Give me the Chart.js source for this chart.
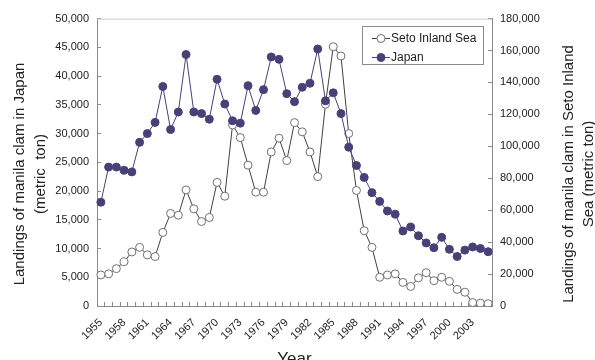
<!DOCTYPE html>
<html>
<head>
<meta charset="utf-8">
<script src="https://cdn.jsdelivr.net/npm/chart.js@4.4.0/dist/chart.umd.min.js"></script>
<style>
  html, body { margin: 0; padding: 0; background: #fff; }
  #wrap { width: 595px; height: 360px; }
</style>
</head>
<body>
<div id="wrap"><canvas id="chart" width="595" height="360"></canvas></div>
<script>
/* ==== Data ==== */
const years = [
  1955, 1956, 1957, 1958, 1959, 1960, 1961, 1962, 1963, 1964,
  1965, 1966, 1967, 1968, 1969, 1970, 1971, 1972, 1973, 1974,
  1975, 1976, 1977, 1978, 1979, 1980, 1981, 1982, 1983, 1984,
  1985, 1986, 1987, 1988, 1989, 1990, 1991, 1992, 1993, 1994,
  1995, 1996, 1997, 1998, 1999, 2000, 2001, 2002, 2003, 2004, 2005
];
// open circles, left axis
const setoInlandSea = [
  5400, 5600, 6500, 7700, 9400, 10200, 8900, 8600, 12800, 16100,
  15800, 20200, 16900, 14700, 15400, 21500, 19100, 31500, 29300, 24500,
  19800, 19800, 26800, 29200, 25300, 31900, 30300, 26800, 22500, 35100,
  45100, 43500, 30000, 20100, 13100, 10200, 5000, 5400, 5600, 4100,
  3400, 4900, 5800, 4400, 5000, 4300, 2900, 2400, 600, 500, 400
];
// filled circles, right axis
const japan = [
  65000, 87000, 87000, 85000, 84000, 102500, 108000, 115000, 137500, 110500,
  121500, 157500, 121500, 120500, 117000, 142000, 126500, 116000, 114500, 138000,
  122500, 135500, 156000, 154500, 133000, 128000, 137000, 139500, 161000, 128500,
  133500, 120500, 99500, 88000, 80500, 71000, 65500, 59500, 57500, 47000,
  49500, 44000, 39500, 36500, 43000, 35500, 31000, 35000, 37000, 36000, 34000
];
const leftTitle = ['Landings of manila clam in Japan', '(metric  ton)'];
const rightTitle = ['Landings of manila clam in Seto Inland', 'Sea (metric ton)'];

const PURPLE = '#474177';
const AXIS = '#8a8a8a';
const fmt = v => Number(v).toLocaleString('en-US');

/* ==== Extras: frame top, y titles, legend ==== */
const extras = {
  id: 'extras',
  afterDraw(chart){
    const ctx = chart.ctx, a = chart.chartArea;
    ctx.save();
    // top frame line
    ctx.strokeStyle = '#c8c8c8'; ctx.lineWidth = 1;
    ctx.beginPath(); ctx.moveTo(a.left, a.top + 0.5); ctx.lineTo(a.right, a.top + 0.5); ctx.stroke();

    // rotated axis titles
    ctx.fillStyle = '#222';
    ctx.font = '15px "Liberation Sans", Arial, sans-serif';
    ctx.textAlign = 'center'; ctx.textBaseline = 'alphabetic';
    const drawRot = (lines, xs, cy) => {
      lines.forEach((t, i) => {
        ctx.save(); ctx.translate(xs[i], cy); ctx.rotate(-Math.PI / 2);
        ctx.fillText(t, 0, 0); ctx.restore();
      });
    };
    drawRot(leftTitle, [24, 45], 174);
    drawRot(rightTitle, [573, 593], 174);

    // legend
    const bx = 362.5, by = 26.5, bw = 121, bh = 38;
    ctx.fillStyle = '#fff'; ctx.fillRect(bx, by, bw, bh);
    ctx.strokeStyle = '#8a8a8a'; ctx.strokeRect(bx, by, bw, bh);
    const items = [
      { text: 'Seto Inland Sea', line: '#404040', fill: '#fff', stroke: '#707070', y: 38 },
      { text: 'Japan', line: PURPLE, fill: PURPLE, stroke: PURPLE, y: 57 }
    ];
    ctx.font = '12px "Liberation Sans", Arial, sans-serif';
    ctx.textAlign = 'left'; ctx.textBaseline = 'middle';
    items.forEach(it => {
      ctx.strokeStyle = it.line; ctx.lineWidth = 1;
      ctx.beginPath(); ctx.moveTo(372, it.y + 0.5); ctx.lineTo(390, it.y + 0.5); ctx.stroke();
      ctx.beginPath(); ctx.arc(381, it.y + 0.5, 4, 0, Math.PI * 2);
      ctx.fillStyle = it.fill; ctx.fill(); ctx.strokeStyle = it.stroke; ctx.stroke();
      ctx.fillStyle = '#222'; ctx.fillText(it.text, 391, it.y + 1);
    });
    ctx.restore();
  }
};

/* ==== Chart ==== */
const ctx = document.getElementById('chart').getContext('2d');
new Chart(ctx, {
  type: 'line',
  data: {
    labels: years,
    datasets: [
      {
        label: 'Seto Inland Sea', data: setoInlandSea, yAxisID: 'y', order: 1,
        borderColor: '#404040', borderWidth: 1,
        pointRadius: 4, pointBackgroundColor: '#fff', pointBorderColor: '#707070', pointBorderWidth: 1
      },
      {
        label: 'Japan', data: japan, yAxisID: 'y1', order: 0,
        borderColor: PURPLE, borderWidth: 1,
        pointRadius: 4, pointBackgroundColor: PURPLE, pointBorderColor: PURPLE, pointBorderWidth: 1
      }
    ]
  },
  options: {
    responsive: false,
    animation: false,
    devicePixelRatio: 1,
    layout: { padding: { top: 18, left: 0, right: 0, bottom: 0 } },
    plugins: { legend: { display: false }, tooltip: { enabled: false } },
    elements: { line: { tension: 0 } },
    scales: {
      x: {
        type: 'category',
        offset: true,
        grid: { offset: true, drawOnChartArea: false, drawTicks: true, tickLength: -4, color: AXIS },
        border: { color: AXIS, width: 1 },
        ticks: {
          autoSkip: false, maxRotation: 45, minRotation: 45, padding: 14,
          color: '#222', font: { family: '"Liberation Sans", Arial, sans-serif', size: 11 },
          callback: function(v, i){ return i % 3 === 0 ? String(years[i]) : ''; }
        },
        title: {
          display: true, text: 'Year', color: '#222',
          font: { family: '"Liberation Sans", Arial, sans-serif', size: 17 },
          padding: { top: 0, bottom: -10 }
        },
        afterFit(s){ s.height = 54; }
      },
      y: {
        position: 'left', min: 0, max: 50000,
        grid: { drawOnChartArea: false, drawTicks: true, tickLength: -4, color: AXIS },
        border: { color: AXIS, width: 1 },
        ticks: {
          stepSize: 5000, padding: 12, color: '#222',
          font: { family: '"Liberation Sans", Arial, sans-serif', size: 11 },
          callback: v => fmt(v)
        },
        afterFit(s){ s.width = 97; }
      },
      y1: {
        position: 'right', min: 0, max: 180000,
        grid: { drawOnChartArea: false, drawTicks: true, tickLength: -4, color: AXIS },
        border: { color: AXIS, width: 1 },
        ticks: {
          stepSize: 20000, padding: 12, color: '#222',
          font: { family: '"Liberation Sans", Arial, sans-serif', size: 11 },
          callback: v => fmt(v)
        },
        afterFit(s){ s.width = 103; }
      }
    }
  },
  plugins: [extras]
});
</script>
</body>
</html>
